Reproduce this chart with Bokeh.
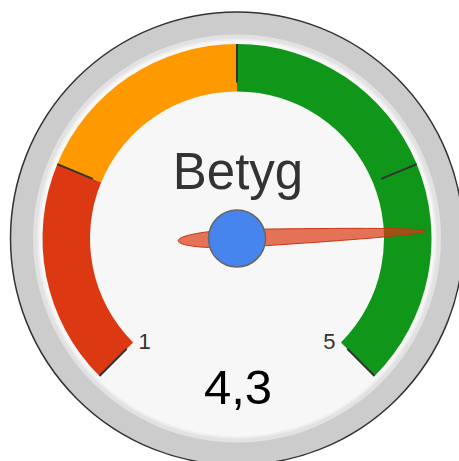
import math
import numpy as np
from bokeh.plotting import figure
from bokeh.models import Range1d
from bokeh.core.properties import value
from bokeh.embed import file_html
from bokeh.resources import INLINE

# ---- data ----
title = "Betyg"
gauge_value = 4.3
v_min = 1
v_max = 5
band_from = [1, 2, 3]
band_to = [2, 3, 5]
band_colors = ["#dc3912", "#ff9900", "#109618"]
major_ticks = [1, 2, 3, 4, 5]
tick_labels = ["1", "", "", "", "5"]

# ---- layout ----
W, H = 459, 461
CX, CY = 236.5, 223.0
R_OUT = 226.5
R_RING = 204.0
R_INNER = 199.0
BAND_IN, BAND_OUT = 147.0, 194.5
TICK_IN = 156.0
LABEL_R = 138.0
SPAN = 270.0
START = 225.0


def ang(v):
    return math.radians(START - (v - v_min) / (v_max - v_min) * SPAN)


p = figure(width=W, height=H, x_range=Range1d(0, W), y_range=Range1d(0, H),
           output_backend="svg", toolbar_location=None, min_border=0)
p.axis.visible = False
p.grid.visible = False
p.outline_line_color = None
p.background_fill_color = "white"
p.border_fill_color = "white"

# outer bezel
p.circle([CX], [CY], radius=R_OUT, fill_color="#cccccc", line_color="#333333", line_width=1.5)
p.circle([CX], [CY], radius=R_RING, fill_color="#e2e2e2", line_color=None)
p.circle([CX], [CY], radius=R_INNER, fill_color="#f7f7f7", line_color="#ededed", line_width=2)

# bands
p.annular_wedge(x=[CX] * len(band_from), y=[CY] * len(band_from),
                inner_radius=BAND_IN, outer_radius=BAND_OUT,
                start_angle=[ang(t) for t in band_to],
                end_angle=[ang(f) for f in band_from],
                fill_color=band_colors, line_color=None)

# major ticks
ta = [ang(t) for t in major_ticks]
p.segment(x0=[CX + TICK_IN * math.cos(a) for a in ta], y0=[CY + TICK_IN * math.sin(a) for a in ta],
          x1=[CX + BAND_OUT * math.cos(a) for a in ta], y1=[CY + BAND_OUT * math.sin(a) for a in ta],
          line_color="#333333", line_width=2)

# tick labels
mid = (v_min + v_max) / 2
la = [ang(t) + math.radians(3) * (1 if t < mid else -1) for t in major_ticks]
p.text(x=[CX + LABEL_R * math.cos(a) for a in la], y=[CY + LABEL_R * math.sin(a) for a in la],
       text=tick_labels, text_font=value("Liberation Sans"), text_font_size="22px",
       text_color="#333333", text_align="center", text_baseline="middle")

# title and value
p.text(x=[CX + 1], y=[290], text=[title], text_font=value("Liberation Sans"), text_font_size="51px",
       text_color="#333333", text_align="center", text_baseline="alphabetic")
p.text(x=[CX + 1], y=[74], text=[("%.1f" % gauge_value).replace(".", ",")],
       text_font=value("Liberation Sans"), text_font_size="49px",
       text_color="#000000", text_align="center", text_baseline="alphabetic")

# needle
L_TIP, L_TAIL, HW = 188.5, 59.0, 9.0
u1 = np.linspace(0, L_TIP, 60)
w1 = HW * np.sqrt(1 - u1 / L_TIP)
u2 = np.linspace(-L_TAIL, 0, 40)
w2 = HW * np.sqrt(np.clip(1 - (u2 / L_TAIL) ** 2, 0, 1))
us = np.concatenate([u2, u1, u1[::-1], u2[::-1]])
ws = np.concatenate([w2, w1, -w1[::-1], -w2[::-1]])
th = ang(gauge_value)
nx = CX + us * math.cos(th) - ws * math.sin(th)
ny = CY + us * math.sin(th) + ws * math.cos(th)
p.patch(list(nx), list(ny), fill_color="#dc3912", fill_alpha=0.7, line_color="#c63310", line_width=1)

# hub
p.circle([CX], [CY], radius=28.5, fill_color="#4684ee", line_color="#666666", line_width=1.5)

open("out.html", "w").write(file_html(p, INLINE))
